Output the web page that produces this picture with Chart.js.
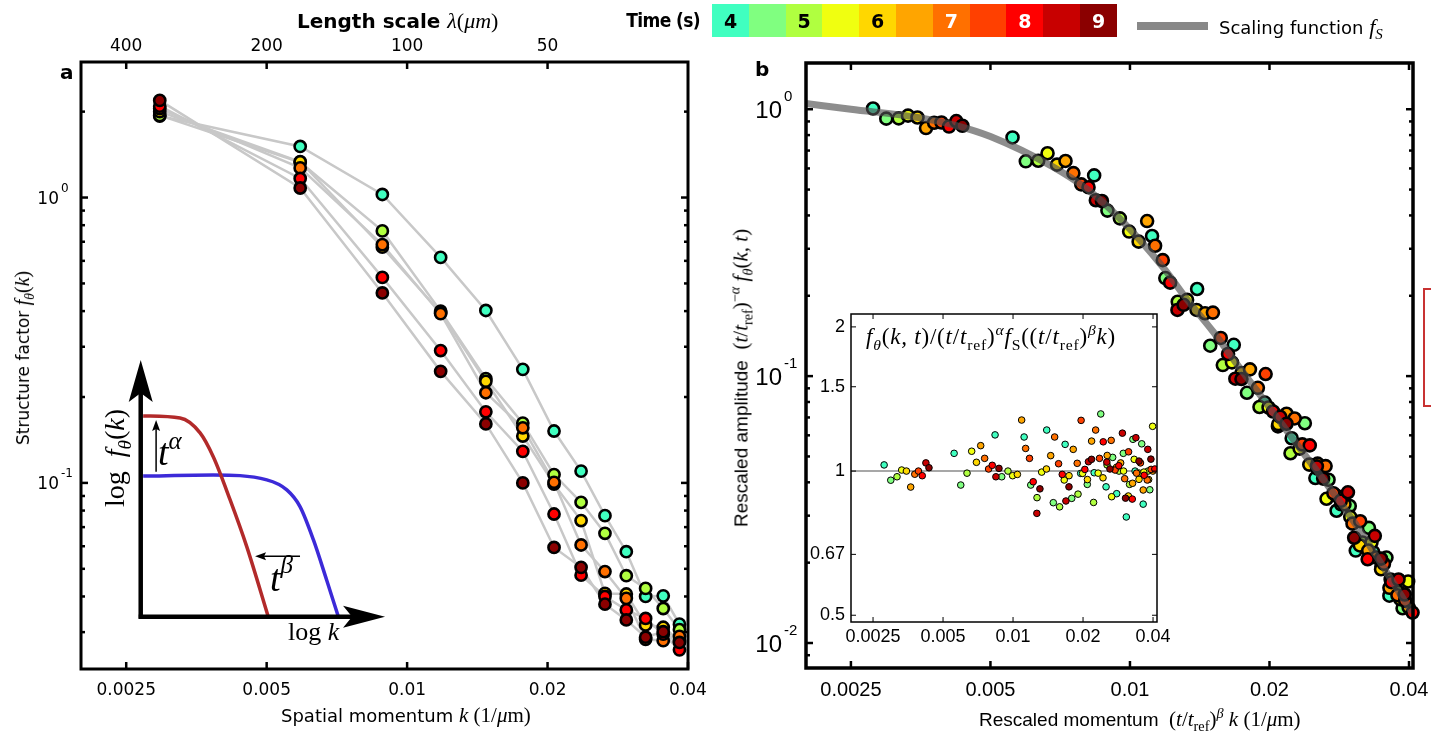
<!DOCTYPE html>
<html>
<head>
<meta charset="utf-8">
<script src="https://cdn.jsdelivr.net/npm/chart.js@4.4.1/dist/chart.umd.min.js"></script>
<style>
  body { margin: 0; width: 1431px; height: 731px; position: relative; overflow: hidden; background: #fff; font-family: "DejaVu Sans", sans-serif; }
  canvas { position: absolute; }
  .lbl { position: absolute; white-space: nowrap; line-height: 1; color: #000; }
  .m { font-family: "Liberation Serif", "DejaVu Serif", serif; font-weight: normal; }
  .m sub, .m sup { font-size: 68%; line-height: 0; }
  .rot { transform: translate(-50%, -50%) rotate(-90deg); }
  .cell { position: absolute; top: 4px; width: 37px; height: 33px; font: bold 19px "DejaVu Sans", sans-serif; text-align: center; line-height: 34px; }
</style>
</head>
<body>
<canvas id="chartA" width="720" height="731" style="left:0;top:0"></canvas>
<canvas id="chartB" width="711" height="731" style="left:720px;top:0"></canvas>
<canvas id="chartC" width="380" height="360" style="left:800px;top:300px"></canvas>

<!-- header / legend -->
<div class="lbl" style="left:297px;top:8px;font:bold 20px 'DejaVu Sans'">Length scale <span class="m" style="font-size:22px"><i>λ</i>(<i>μm</i>)</span></div>
<div class="lbl" style="right:731px;top:9px;font:bold 19px 'DejaVu Sans';font-stretch:condensed;letter-spacing:-0.6px">Time (s)</div>
<div id="colorbar"></div>
<div style="position:absolute;left:1137px;top:22px;width:71px;height:8px;background:#888"></div>
<div class="lbl" style="left:1219px;top:16px;font-size:18px">Scaling function <span class="m" style="font-size:22px"><i>f</i><sub><i>S</i></sub></span></div>

<!-- panel letters -->
<div class="lbl" style="left:60px;top:60px;font:bold 20px 'DejaVu Sans'">a</div>
<div class="lbl" style="left:755px;top:57px;font:bold 20px 'DejaVu Sans'">b</div>

<!-- panel a axis titles -->
<div class="lbl rot" style="left:22px;top:358px;font-size:17px">Structure factor <span class="m" style="font-size:20px"><i>f</i><sub><i>θ</i></sub>(<i>k</i>)</span></div>
<div class="lbl" style="left:281px;top:705px;font-size:18px">Spatial momentum <span class="m" style="font-size:21px"><i>k</i> (1/<i>μ</i>m)</span></div>

<!-- panel b axis titles -->
<div class="lbl rot" style="left:741px;top:378px;font:19px 'Liberation Sans'">Rescaled amplitude&nbsp; <span class="m" style="font-size:21px">(<i>t</i>/<i>t</i><sub>ref</sub>)<sup>−<i>α</i></sup> <i>f</i><sub><i>θ</i></sub>(<i>k, t</i>)</span></div>
<div class="lbl" style="left:979px;top:707px;font:19px 'Liberation Sans'">Rescaled momentum&nbsp; <span class="m" style="font-size:21px">(<i>t</i>/<i>t</i><sub>ref</sub>)<sup><i>β</i></sup> <i>k</i> (1/<i>μ</i>m)</span></div>

<!-- inset title -->
<div class="lbl m" style="left:866px;top:325px;font-size:23px;letter-spacing:0.8px"><i>f</i><sub><i>θ</i></sub>(<i>k, t</i>)/(<i>t</i>/<i>t</i><sub>ref</sub>)<sup><i>α</i></sup><i>f</i><sub>S</sub>((<i>t</i>/<i>t</i><sub>ref</sub>)<sup><i>β</i></sup><i>k</i>)</div>

<!-- sketch labels in panel a -->
<div class="lbl m rot" style="left:115px;top:458px;font-size:28px">log&nbsp; <i>f</i><sub><i>θ</i></sub>(<i>k</i>)</div>
<div class="lbl m" style="left:158px;top:433px;font-size:38px"><i>t</i><span style="font-size:25px;position:relative;top:-16px"><i>α</i></span></div>
<div class="lbl m" style="left:270px;top:559px;font-size:38px"><i>t</i><span style="font-size:25px;position:relative;top:-18px"><i>β</i></span></div>
<div class="lbl m" style="left:288px;top:619px;font-size:26px">log <i>k</i></div>

<!-- clipped neighbour panel edge -->
<div style="position:absolute;left:1423px;top:288px;width:30px;height:115px;border:2px solid #c83232;border-right:none"></div>

<script>
// ---------- DATA ----------
const times = [4, 4.5, 5, 5.5, 6, 6.5, 7, 7.5, 8, 8.5, 9];
const timeColors = ['#40ffc0', '#80ff80', '#b0ff40', '#f0ff10', '#ffd700', '#ffa500', '#ff7000', '#ff4000', '#ff0000', '#c80000', '#8b0000'];
const timeTickLabels = ['4', '', '5', '', '6', '', '7', '', '8', '', '9'];

// panel a: structure factor, every second frame (t = 4, 5, 6, 7, 8, 9 s)
const kA = [0.00295, 0.0059, 0.00885, 0.0118, 0.01475, 0.0177, 0.02065, 0.0236, 0.02655, 0.0295, 0.03245, 0.0354, 0.03835];
const fA4 = [1.93, 1.51, 1.025, 0.617, 0.402, 0.25, 0.152, 0.11, 0.0768, 0.0574, 0.040, 0.0402, 0.032];
const fA5 = [1.94, 1.33, 0.764, 0.40, 0.232, 0.162, 0.107, 0.0855, 0.0666, 0.0473, 0.0427, 0.0363, 0.0306];
const fA6 = [2.0, 1.335, 0.67, 0.395, 0.227, 0.146, 0.099, 0.0738, 0.041, 0.0408, 0.0318, 0.0312, 0.028];
const fA7 = [2.05, 1.27, 0.684, 0.392, 0.207, 0.156, 0.1005, 0.0606, 0.0489, 0.0394, 0.0283, 0.028, 0.029];
const fA8 = [2.09, 1.166, 0.525, 0.291, 0.1775, 0.129, 0.0778, 0.0475, 0.040, 0.0359, 0.0335, 0.0295, 0.026];
const fA9 = [2.19, 1.08, 0.463, 0.246, 0.161, 0.10, 0.0594, 0.0506, 0.0376, 0.0331, 0.0288, 0.0301, 0.0276];

// panel b: rescaled momentum (kB) and rescaled amplitude (fB), all frames
const kB4 = [0.00279, 0.00558, 0.00837, 0.01116, 0.01396, 0.01675, 0.01954, 0.02233, 0.02512, 0.02791, 0.0307, 0.03349, 0.03628];
const fB4 = [1.006, 0.784, 0.565, 0.335, 0.212, 0.131, 0.0796, 0.0585, 0.0415, 0.0313, 0.0222, 0.0219, 0.01504];
const kB45 = [0.00298, 0.00596, 0.00894, 0.01192, 0.0149, 0.01788, 0.02086, 0.02384, 0.02682, 0.0298, 0.03278, 0.03576, 0.03874];
const fB45 = [0.922, 0.638, 0.417, 0.233, 0.130, 0.0866, 0.0648, 0.0666, 0.0409, 0.0326, 0.0270, 0.0209, 0.0135];
const kB5 = [0.00317, 0.00634, 0.00951, 0.01268, 0.01586, 0.01903, 0.0222, 0.02537, 0.02854, 0.03171, 0.03488, 0.03805];
const fB5 = [0.924, 0.641, 0.39, 0.19, 0.110, 0.0766, 0.0514, 0.045, 0.0331, 0.0238, 0.0194, 0.0155];
const kB55 = [0.00332, 0.00664, 0.00996, 0.01328, 0.0166, 0.01991, 0.02323, 0.02655, 0.02987, 0.03319, 0.03651, 0.03983];
const fB55 = [0.946, 0.684, 0.348, 0.193, 0.1126, 0.0763, 0.0535, 0.0347, 0.0297, 0.0238, 0.0173, 0.0170];
const kB6 = [0.00348, 0.00696, 0.01044, 0.01392, 0.01741, 0.02089, 0.02437, 0.02785, 0.03133, 0.03481, 0.03829];
const fB6 = [0.931, 0.62, 0.319, 0.177, 0.1027, 0.0661, 0.0466, 0.0357, 0.0232, 0.0189, 0.0146];
const kB65 = [0.00363, 0.00726, 0.01089, 0.01452, 0.01815, 0.02177, 0.0254, 0.02903, 0.03266, 0.03629, 0.03992];
const fB65 = [0.85, 0.64, 0.381, 0.172, 0.106, 0.0723, 0.047, 0.0331, 0.0222, 0.0161, 0.0136];
const kB7 = [0.00378, 0.00755, 0.01133, 0.0151, 0.01888, 0.02266, 0.02643, 0.03021, 0.03398, 0.03776];
const fB7 = [0.89, 0.576, 0.308, 0.173, 0.0904, 0.0694, 0.046, 0.028, 0.0209, 0.0151];
const kB75 = [0.00392, 0.00785, 0.01177, 0.0157, 0.01962, 0.02354, 0.02747, 0.03139, 0.03532, 0.03924];
const fB75 = [0.892, 0.523, 0.272, 0.139, 0.1018, 0.0555, 0.0364, 0.0286, 0.0198, 0.0144];
const kB8 = [0.00407, 0.00814, 0.01221, 0.01628, 0.02036, 0.02443, 0.0285, 0.03257, 0.03664, 0.04071];
const fB8 = [0.861, 0.51, 0.224, 0.121, 0.0737, 0.055, 0.0341, 0.0206, 0.0169, 0.013];
const kB85 = [0.00422, 0.00844, 0.01266, 0.01688, 0.0211, 0.02531, 0.02953, 0.03375, 0.03797];
const fB85 = [0.903, 0.456, 0.177, 0.0978, 0.0704, 0.0459, 0.0367, 0.0252, 0.0173];
const kB9 = [0.00435, 0.0087, 0.01305, 0.0174, 0.02176, 0.02611, 0.03046, 0.03481, 0.03916];
const fB9 = [0.867, 0.453, 0.185, 0.0975, 0.0663, 0.0413, 0.0248, 0.0207, 0.0152];

// inset: ratio of data to scaling function, same momenta as panel b
const rC4 = [1.03, 1.089, 1.19, 1.178, 1.218, 1.137, 0.989, 0.992, 0.927, 0.897, 0.802, 1.0, 0.853];
const rC45 = [0.957, 0.935, 0.973, 0.935, 0.859, 0.877, 0.938, 1.316, 1.068, 1.089, 1.165, 1.14, 0.914];
const rC5 = [0.973, 0.99, 1.0, 0.88, 0.842, 0.895, 0.86, 1.03, 1.0, 0.938, 0.99, 1.0];
const rC55 = [1.005, 1.10, 0.978, 0.995, 0.958, 0.989, 0.99, 0.884, 1.0, 1.058, 0.995, 1.24];
const rC6 = [1.0, 1.043, 0.984, 1.01, 0.978, 0.96, 0.968, 1.018, 0.887, 0.961, 0.96];
const rC65 = [0.926, 1.13, 1.278, 1.077, 1.11, 1.155, 1.078, 1.04, 0.943, 0.913, 1.0];
const rC7 = [0.985, 1.063, 1.115, 1.178, 1.038, 1.218, 1.159, 0.964, 0.99, 0.958];
const rC75 = [1.0, 1.01, 1.063, 1.036, 1.276, 1.063, 1.005, 1.097, 1.04, 1.008];
const rC8 = [0.978, 1.028, 0.95, 0.984, 1.008, 1.151, 1.026, 0.874, 0.98, 1.01];
const rC85 = [1.04, 0.973, 0.816, 0.866, 1.046, 1.044, 1.2, 1.174, 1.11];
const rC9 = [1.016, 1.013, 0.918, 0.927, 1.058, 1.01, 0.878, 1.049, 1.059];

// scaling function f_S
const fsK = [0.002, 0.0025, 0.0035, 0.0042, 0.005, 0.0068, 0.0081, 0.0095, 0.0118, 0.0133, 0.0151, 0.0172, 0.0197, 0.0232, 0.0302, 0.0406];
const fsF = [1.05, 1.0, 0.93, 0.87, 0.79, 0.61, 0.50, 0.39, 0.255, 0.193, 0.147, 0.108, 0.079, 0.054, 0.029, 0.013];
const ratioRef = 1;

// axis ticks
const kTicks = [0.0025, 0.005, 0.01, 0.02, 0.04];
const kTickLabels = ['0.0025', '0.005', '0.01', '0.02', '0.04'];
const lambdaTicks = [400, 200, 100, 50];
const ratioTicks = [0.5, 0.67, 1, 1.5, 2];
const ratioTickLabels = ['0.5', '0.67', '1', '1.5', '2'];

// schematic in panel a (arbitrary units, axes run 0..10)
const sketchLate = [[0.1, 7.82], [1.61, 7.74], [2.43, 7.16], [2.97, 6.23], [3.66, 4.55], [4.34, 2.73], [5.22, 0]];
const sketchEarly = [[0.1, 5.48], [2.97, 5.52], [5.16, 5.33], [5.98, 4.94], [6.52, 4.29], [7.07, 2.99], [7.61, 1.43], [8.09, 0]];
const sketchAlpha = [[0.63, 5.65], [0.63, 7.66]];
const sketchBeta = [[6.52, 2.36], [4.68, 2.36]];

// ---------- HELPERS ----------
const pts = (xs, ys) => ys.map((y, i) => ({ x: xs[i], y: y }));
const pairs = arr => arr.map(p => ({ x: p[0], y: p[1] }));

function seg(ctx, x1, y1, x2, y2) {
  ctx.beginPath(); ctx.moveTo(x1, y1); ctx.lineTo(x2, y2); ctx.stroke();
}

function logMinor(min, max) {
  const out = [];
  for (let e = -3; e <= 1; e++) {
    for (let m = 2; m <= 9; m++) {
      const v = m * Math.pow(10, e);
      if (v > min && v < max) out.push(v);
    }
  }
  return out;
}

// matlab style box with inward ticks
function axesPlugin(c) {
  return {
    id: 'axes',
    beforeDatasetsDraw(chart) {
      if (!c.fill) return;
      const a = chart.chartArea, ctx = chart.ctx;
      ctx.save();
      ctx.fillStyle = '#fff';
      ctx.fillRect(a.left, a.top, a.right - a.left, a.bottom - a.top);
      ctx.restore();
    },
    afterDatasetsDraw(chart) {
      const ctx = chart.ctx, a = chart.chartArea;
      const sx = chart.scales.x, sy = chart.scales.y;
      ctx.save();
      ctx.strokeStyle = '#000';
      ctx.lineWidth = c.tickWidth;
      c.xBottom.forEach(v => { const p = sx.getPixelForValue(v); seg(ctx, p, a.bottom, p, a.bottom - c.tickLen); });
      c.xTop.forEach(v => { const p = sx.getPixelForValue(v); seg(ctx, p, a.top, p, a.top + c.tickLen); });
      c.yMajor.forEach(v => {
        const p = sy.getPixelForValue(v);
        seg(ctx, a.left, p, a.left + c.tickLen, p);
        seg(ctx, a.right, p, a.right - c.tickLen, p);
      });
      (c.yMinor || []).forEach(v => {
        const p = sy.getPixelForValue(v);
        seg(ctx, a.left, p, a.left + c.minorLen, p);
        seg(ctx, a.right, p, a.right - c.minorLen, p);
      });
      ctx.lineWidth = c.frameWidth;
      ctx.strokeRect(a.left, a.top, a.right - a.left, a.bottom - a.top);

      ctx.fillStyle = '#000';
      ctx.font = c.font;
      ctx.textAlign = 'center';
      ctx.textBaseline = 'middle';
      c.xBottomLabels.forEach((s, i) => ctx.fillText(s, sx.getPixelForValue(c.xBottom[i]), a.bottom + c.xGap));
      (c.xTopLabels || []).forEach((s, i) => ctx.fillText(s, sx.getPixelForValue(c.xTop[i]), a.top - c.xTopGap));
      c.yLabels.forEach((s, i) => {
        const p = sy.getPixelForValue(c.yMajor[i]);
        if (c.pow) {
          ctx.textAlign = 'right'; ctx.font = c.baseFont;
          ctx.fillText('10', a.left - c.baseOff, p + c.baseDy);
          ctx.textAlign = 'left'; ctx.font = c.supFont;
          ctx.fillText(s, a.left - c.baseOff + 2, p + c.supDy);
        } else {
          ctx.textAlign = 'right';
          ctx.fillText(s, a.left - c.yGap, p);
        }
      });
      ctx.restore();
    }
  };
}

function arrow(ctx, x1, y1, x2, y2, lw, len, half, notch) {
  const ang = Math.atan2(y2 - y1, x2 - x1);
  ctx.lineWidth = lw;
  seg(ctx, x1, y1, x2 - Math.cos(ang) * (len - notch), y2 - Math.sin(ang) * (len - notch));
  ctx.save();
  ctx.translate(x2, y2);
  ctx.rotate(ang);
  ctx.beginPath();
  ctx.moveTo(0, 0);
  ctx.lineTo(-len, -half);
  ctx.lineTo(-len + notch, 0);
  ctx.lineTo(-len, half);
  ctx.closePath();
  ctx.fill();
  ctx.restore();
}

const sketchPlugin = {
  id: 'sketch',
  afterDatasetsDraw(chart) {
    const ctx = chart.ctx, X = chart.scales.sx, Y = chart.scales.sy;
    const px = v => X.getPixelForValue(v), py = v => Y.getPixelForValue(v);
    ctx.save();
    ctx.strokeStyle = '#000';
    ctx.fillStyle = '#000';
    ctx.lineCap = 'butt';
    arrow(ctx, px(0), py(0) + 2, px(0), py(10), 4.5, 42, 12, 9);
    arrow(ctx, px(0) - 2, py(0), px(10), py(0), 4.5, 42, 11, 9);
    arrow(ctx, px(sketchAlpha[0][0]), py(sketchAlpha[0][1]), px(sketchAlpha[1][0]), py(sketchAlpha[1][1]), 1.5, 11, 4, 2);
    arrow(ctx, px(sketchBeta[0][0]), py(sketchBeta[0][1]), px(sketchBeta[1][0]), py(sketchBeta[1][1]), 1.5, 11, 4, 2);
    ctx.restore();
  }
};

// ---------- COLOUR BAR ----------
const bar = document.getElementById('colorbar');
times.forEach((t, i) => {
  const d = document.createElement('div');
  d.className = 'cell';
  d.style.left = (712 + i * 36.8) + 'px';
  d.style.background = timeColors[i];
  d.style.color = i >= 6 ? '#fff' : '#000';
  d.textContent = timeTickLabels[i];
  bar.appendChild(d);
});

// ---------- PANEL A ----------
const seriesA = [fA4, fA5, fA6, fA7, fA8, fA9];
const colorIdxA = [0, 2, 4, 6, 8, 10];
const dsA = [];
seriesA.forEach(f => dsA.push({
  data: pts(kA, f), showLine: true, borderColor: '#c8c8c8', borderWidth: 2.5,
  pointRadius: 0, order: 50
}));
seriesA.forEach((f, i) => dsA.push({
  data: pts(kA, f), showLine: false, pointRadius: 5.6, pointBorderWidth: 2.6,
  pointBorderColor: '#000', pointBackgroundColor: timeColors[colorIdxA[i]],
  order: 10 - i, clip: false
}));
dsA.push({
  data: pairs(sketchLate), xAxisID: 'sx', yAxisID: 'sy', showLine: true,
  borderColor: '#b22a2a', borderWidth: 3.5, pointRadius: 0, cubicInterpolationMode: 'monotone', order: 40
});
dsA.push({
  data: pairs(sketchEarly), xAxisID: 'sx', yAxisID: 'sy', showLine: true,
  borderColor: '#3c2ad8', borderWidth: 3.5, pointRadius: 0, cubicInterpolationMode: 'monotone', order: 41
});

new Chart(document.getElementById('chartA'), {
  type: 'scatter',
  data: { datasets: dsA },
  options: {
    responsive: false, animation: false, events: [],
    layout: { padding: { left: 81, right: 32, top: 62, bottom: 62 } },
    plugins: { legend: { display: false }, tooltip: { enabled: false } },
    scales: {
      x: { type: 'logarithmic', min: 0.002, max: 0.04, bounds: 'data', display: false },
      y: { type: 'logarithmic', min: 0.02228, max: 2.985, bounds: 'data', display: false },
      sx: { type: 'linear', axis: 'x', min: -2.444, max: 22.40, bounds: 'data', display: false },
      sy: { type: 'linear', axis: 'y', min: -2.037, max: 21.61, bounds: 'data', display: false }
    }
  },
  plugins: [axesPlugin({
    frameWidth: 3, tickWidth: 2.5, tickLen: 7, minorLen: 4,
    xBottom: kTicks, xBottomLabels: kTickLabels,
    xTop: lambdaTicks.map(l => 1 / l), xTopLabels: lambdaTicks.map(String),
    yMajor: [1, 0.1], yLabels: ['0', '-1'], yMinor: logMinor(0.02228, 2.985),
    font: '17px "DejaVu Sans"', xGap: 22, xTopGap: 15,
    pow: true, baseFont: '17px "DejaVu Sans"', supFont: '12px "DejaVu Sans"', baseOff: 22, baseDy: 2, supDy: -9
  }), sketchPlugin]
});

// ---------- PANEL B ----------
const kBList = [kB4, kB45, kB5, kB55, kB6, kB65, kB7, kB75, kB8, kB85, kB9];
const fBList = [fB4, fB45, fB5, fB55, fB6, fB65, fB7, fB75, fB8, fB85, fB9];
const rCList = [rC4, rC45, rC5, rC55, rC6, rC65, rC7, rC75, rC8, rC85, rC9];

const dsB = [{
  data: pts(fsK, fsF), showLine: true, borderColor: 'rgba(80,80,80,0.65)', borderWidth: 7,
  pointRadius: 0, cubicInterpolationMode: 'monotone', order: 0
}];
kBList.forEach((k, i) => dsB.push({
  data: pts(k, fBList[i]), showLine: false, pointRadius: 6, pointBorderWidth: 2.6,
  pointBorderColor: '#000', pointBackgroundColor: timeColors[i], order: 11 - i, clip: false
}));

new Chart(document.getElementById('chartB'), {
  type: 'scatter',
  data: { datasets: dsB },
  options: {
    responsive: false, animation: false, events: [],
    layout: { padding: { left: 86, right: 18, top: 63, bottom: 63 } },
    plugins: { legend: { display: false }, tooltip: { enabled: false } },
    scales: {
      x: { type: 'logarithmic', min: 0.002, max: 0.0408, bounds: 'data', display: false },
      y: { type: 'logarithmic', min: 0.00806, max: 1.49, bounds: 'data', display: false }
    }
  },
  plugins: [axesPlugin({
    frameWidth: 3.5, tickWidth: 2.5, tickLen: 7, minorLen: 4,
    xBottom: kTicks, xBottomLabels: kTickLabels, xTop: kTicks,
    yMajor: [1, 0.1, 0.01], yLabels: ['0', '-1', '-2'], yMinor: logMinor(0.00806, 1.49),
    font: '20px "Liberation Sans"', xGap: 22,
    pow: true, baseFont: '24px "Liberation Sans"', supFont: '15px "Liberation Sans"', baseOff: 24, baseDy: 2, supDy: -12
  })]
});

// ---------- INSET ----------
const dsC = [{
  data: [{ x: 0.002, y: ratioRef }, { x: 0.0416, y: ratioRef }], showLine: true,
  borderColor: '#8a8a8a', borderWidth: 1.5, pointRadius: 0, order: 30
}];
kBList.forEach((k, i) => dsC.push({
  data: pts(k, rCList[i]), showLine: false, pointRadius: 3.3, pointBorderWidth: 1,
  pointBorderColor: '#000', pointBackgroundColor: timeColors[i], order: 11 - i
}));

new Chart(document.getElementById('chartC'), {
  type: 'scatter',
  data: { datasets: dsC },
  options: {
    responsive: false, animation: false, events: [],
    layout: { padding: { left: 51, right: 23, top: 14, bottom: 38 } },
    plugins: { legend: { display: false }, tooltip: { enabled: false } },
    scales: {
      x: { type: 'logarithmic', min: 0.00201, max: 0.0416, bounds: 'data', display: false },
      y: { type: 'logarithmic', min: 0.484, max: 2.128, bounds: 'data', display: false }
    }
  },
  plugins: [axesPlugin({
    fill: true, frameWidth: 1.5, tickWidth: 1, tickLen: 5, minorLen: 0,
    xBottom: kTicks, xBottomLabels: kTickLabels, xTop: kTicks,
    yMajor: ratioTicks, yLabels: ratioTickLabels,
    font: '18px "Liberation Sans"', xGap: 15, yGap: 6
  })]
});
</script>
</body>
</html>
